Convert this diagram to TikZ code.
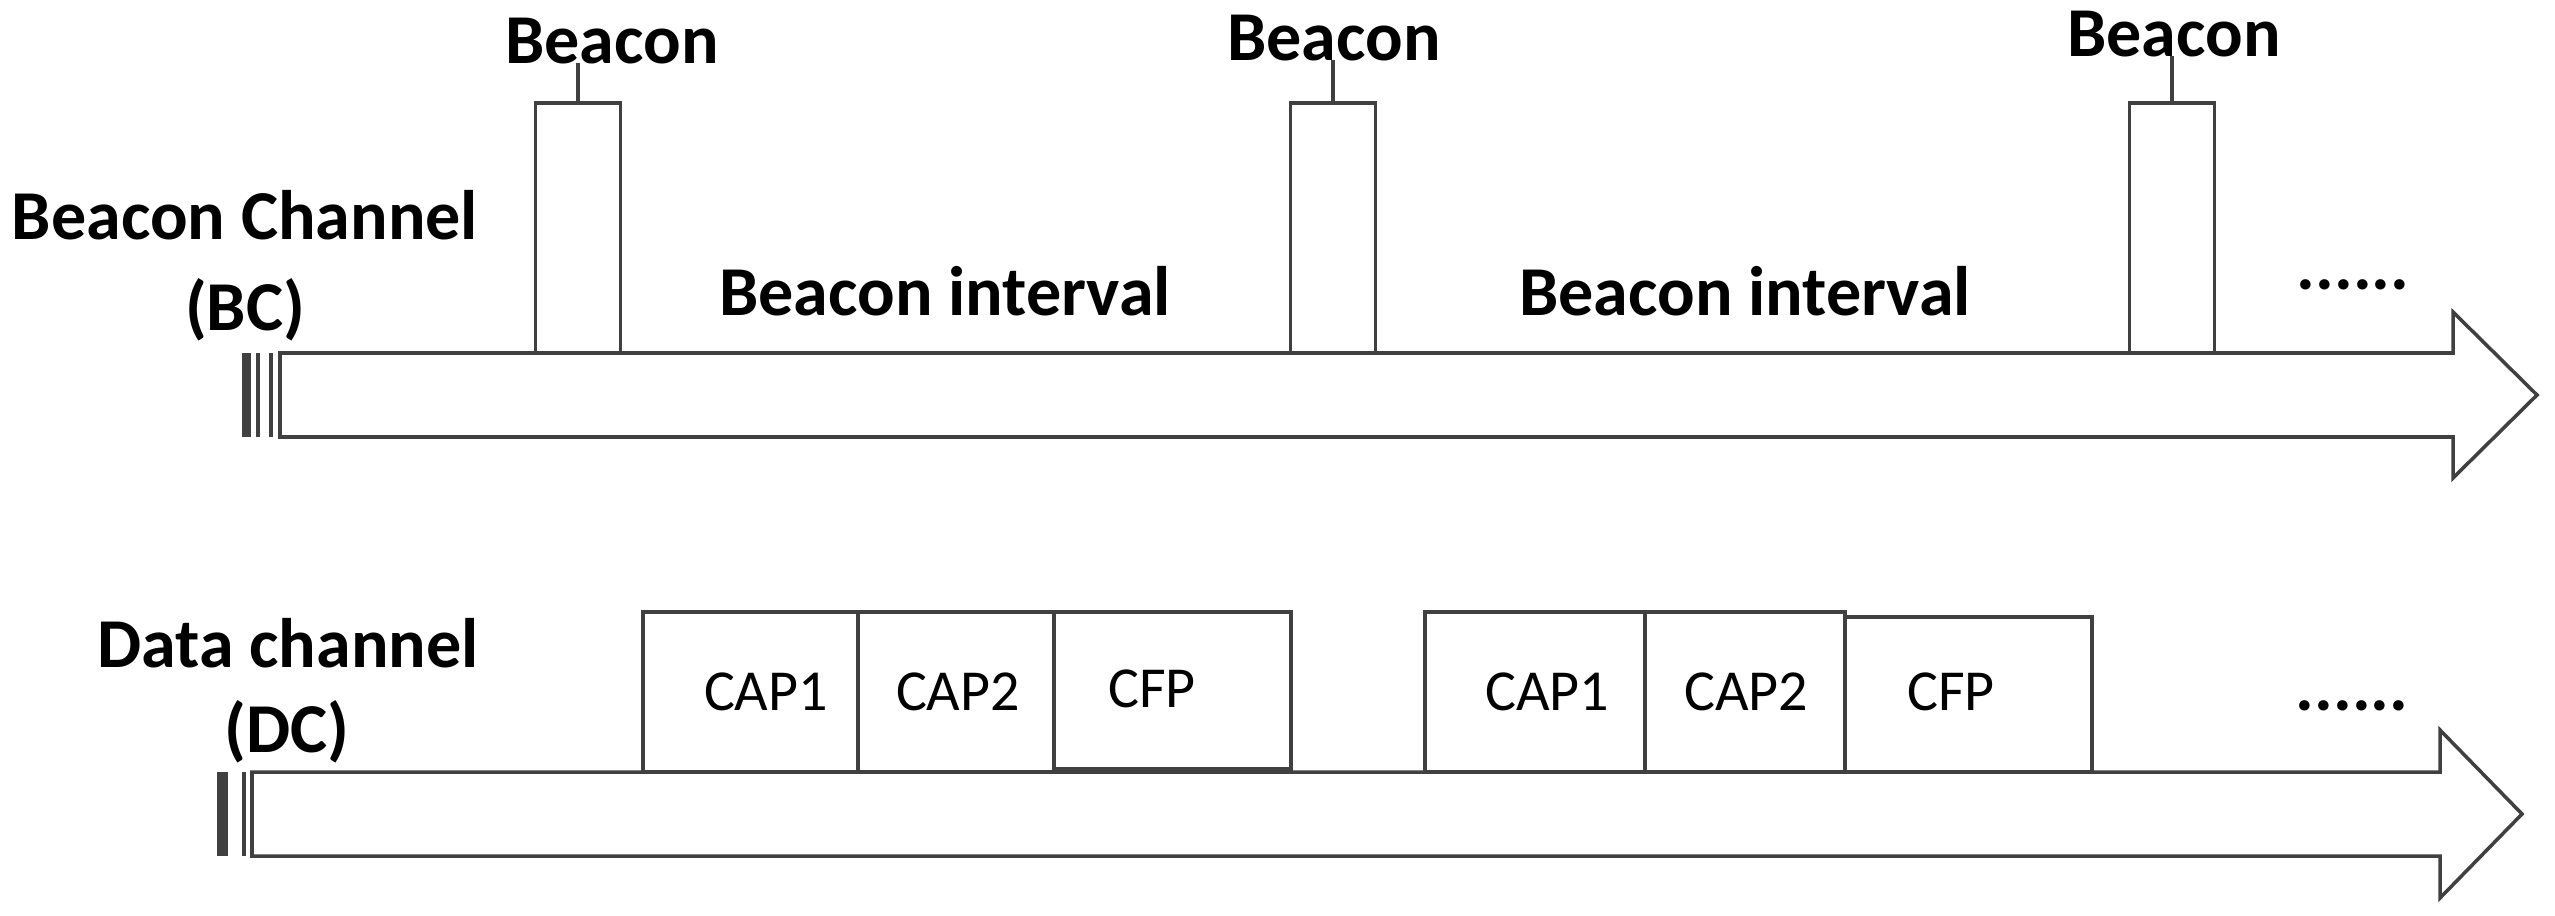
\documentclass[tikz,border=0pt]{standalone}
\usepackage{fontspec}
\setmainfont{Carlito}
\begin{document}
\begin{tikzpicture}[x=0.01cm,y=-0.01cm,
  ln/.style={draw=black!75, line width=1pt},
  lbl/.style={font=\fontsize{19.92pt}{24pt}\selectfont\bfseries, inner sep=0, anchor=base},
  seglbl/.style={font=\fontsize{16.5pt}{20pt}\selectfont, inner sep=0, anchor=base},
  bbox/.style={ln, fill=white, minimum width=0.85cm, minimum height=2.5cm, inner sep=0, outer sep=0, anchor=south}]
\useasboundingbox (0,0) rectangle (2555,915);

% ---- Beacon channel arrow ----
\fill[black!75] (242,353) rectangle (251,437);
\draw[ln] (258,353) -- (258,437);
\draw[ln] (271,353) -- (271,437);
\draw[ln, fill=white] (280,353) -- (2453,353) -- (2453,312) -- (2537,395) -- (2453,478) -- (2453,437) -- (280,437) -- cycle;

% ---- Data channel arrow ----
\fill[black!75] (217,772) rectangle (228,856);
\draw[ln] (244,772) -- (244,856);
\draw[ln, fill=white] (252,772) -- (2440,772) -- (2440,730) -- (2522,814) -- (2440,898) -- (2440,856) -- (252,856) -- cycle;

% ---- channel labels ----
\node[lbl] (bc1) at (245,239) {Beacon Channel};
\node[lbl] (bc2) at (245,330) {(BC)};
\node[lbl] (dc1) at (288,667) {Data channel};
\node[lbl] (dc2) at (287,752) {(DC)};

% ---- beacons ----
\node[bbox] (bx1) at (578,353) {};
\node[bbox] (bx2) at (1333,353) {};
\node[bbox] (bx3) at (2172,353) {};
\node[lbl] (bl1) at (612,63) {Beacon};
\node[lbl] (bl2) at (1334,60) {Beacon};
\node[lbl] (bl3) at (2174,56) {Beacon};
\draw[ln] (bx1.north) -- (bx1.north |- bl1.base);
\draw[ln] (bx2.north) -- (bx2.north |- bl2.base);
\draw[ln] (bx3.north) -- (bx3.north |- bl3.base);

\node[lbl] (bi1) at (945,315) {Beacon interval};
\node[lbl] (bi2) at (1745,315) {Beacon interval};
\node[lbl] (dt1) at (2353,289) {......};

% ---- data channel superframes ----
\draw[ln] (643,612) rectangle (858,772);
\draw[ln] (858,612) rectangle (1054,772);
\draw[ln] (1054,612) rectangle (1291,769);
\draw[ln] (1425,612) rectangle (1645,772);
\draw[ln] (1645,612) rectangle (1845,772);
\draw[ln] (1845,617) rectangle (2092,772);

\node[seglbl] (c11) at (766,710) {CAP1};
\node[seglbl] (c12) at (958,710) {CAP2};
\node[seglbl] (cf1) at (1152,707) {CFP};
\node[seglbl] (c21) at (1547,710) {CAP1};
\node[seglbl] (c22) at (1746,710) {CAP2};
\node[seglbl] (cf2) at (1951,710) {CFP};
\node[lbl] (dt2) at (2352,710) {......};
\end{tikzpicture}
\end{document}
